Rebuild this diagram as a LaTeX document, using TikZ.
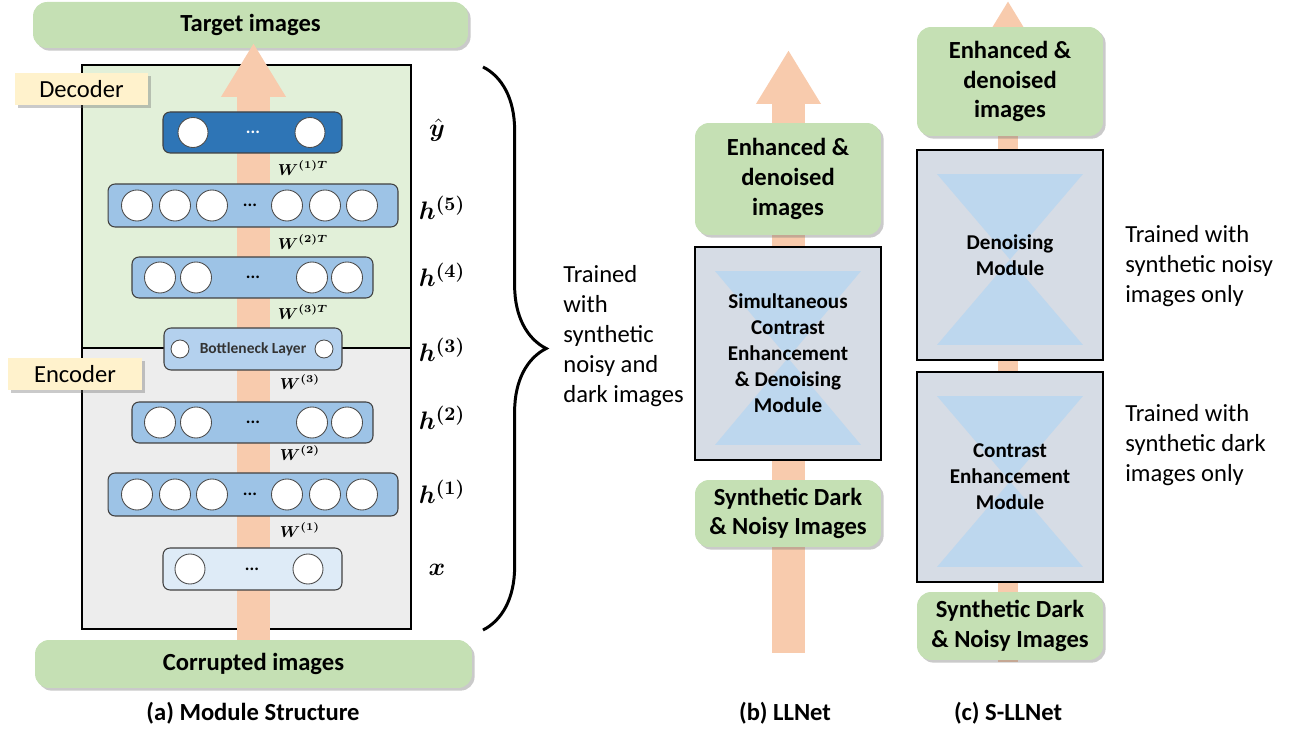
\documentclass[tikz,border=0pt]{standalone}
\usepackage[no-math]{fontspec}
\setmainfont{Carlito}
\usepackage{amsmath}
\usepackage{bm}
\usetikzlibrary{positioning,shadows,arrows.meta,decorations.pathreplacing}

\definecolor{boxgreen}{HTML}{C5E0B4}
\definecolor{decgreen}{HTML}{E2F0D9}
\definecolor{encgray}{HTML}{EDEDED}
\definecolor{tagyellow}{HTML}{FFF2CC}
\definecolor{flowc}{HTML}{F8CBAD}
\definecolor{darklayer}{HTML}{2E75B6}
\definecolor{midlayer}{HTML}{9DC3E6}
\definecolor{necklayer}{HTML}{B4D1EE}
\definecolor{inlayer}{HTML}{DEEBF7}
\definecolor{modfill}{HTML}{D6DCE5}
\definecolor{hourc}{HTML}{BDD7EE}

\tikzset{
    imgbox/.style={fill=boxgreen, rounded corners=8pt, align=center, inner sep=0pt,
        font=\bfseries\fontsize{14}{17}\selectfont,
        drop shadow={shadow xshift=1.5pt, shadow yshift=-1.5pt, opacity=0.35, fill=black!60}},
    tagbox/.style={fill=tagyellow, minimum width=2.66cm, minimum height=0.64cm,
        font=\fontsize{14}{16}\selectfont,
        drop shadow={shadow xshift=1.5pt, shadow yshift=-1.5pt, opacity=0.35, fill=black!60}},
    layer/.style={draw=black!75, rounded corners=4pt, line width=0.6pt},
    neuron/.style={circle, draw=black!70, fill=white, minimum size=0.6cm, inner sep=0pt, line width=0.5pt},
    smallneuron/.style={neuron, minimum size=0.36cm},
    dots/.style={font=\bfseries\fontsize{10}{10}\selectfont, inner sep=0pt},
    wlabel/.style={font=\fontsize{9}{9}\selectfont, inner sep=0pt},
    hlabel/.style={font=\fontsize{15}{16}\selectfont, inner sep=0pt},
    flow/.style={draw=flowc, line width=0.66cm, -{Triangle[width=1.22cm, length=1.08cm]}},
    modbox/.style={draw, line width=0.8pt, fill=modfill, minimum width=3.72cm, align=center,
        font=\bfseries\fontsize{12}{14.8}\selectfont,
        path picture={
            \fill[hourc] ([xshift=0.4cm, yshift=-0.48cm]path picture bounding box.north west)
                -- ([xshift=-0.4cm, yshift=-0.48cm]path picture bounding box.north east)
                -- ([yshift=-0.09cm]path picture bounding box.center) -- cycle;
            \fill[hourc] ([xshift=0.4cm, yshift=0.3cm]path picture bounding box.south west)
                -- ([xshift=-0.4cm, yshift=0.3cm]path picture bounding box.south east)
                -- ([yshift=-0.09cm]path picture bounding box.center) -- cycle;
        }},
    trained/.style={align=left, anchor=west, inner sep=0pt, font=\fontsize{14}{17}\selectfont},
    caption/.style={font=\bfseries\fontsize{14}{16}\selectfont},
}

\begin{document}
\begin{tikzpicture}[x=0.02cm, y=-0.02cm]
    \useasboundingbox (0,0) rectangle (1296,729);

    % (a) module structure
    \node[imgbox, minimum width=8.7cm, minimum height=0.92cm] (target) at (250.5,25) {Target images};

    \fill[decgreen] (82,65) rectangle (411,348);
    \fill[encgray] (82,348) rectangle (411,629);
    \draw[line width=0.6pt] (82,65) rectangle (411,629);
    \draw[line width=0.6pt] (82,348) -- (411,348);

    \node[tagbox] (decoder) at (81.5,89) {Decoder};
    \node[tagbox, minimum width=2.68cm] (encoder) at (75,374) {Encoder};

    \coordinate (aBot) at (253.5,660);
    \coordinate (aTop) at (253.5,43);
    \draw[flow] (aBot) -- (aTop);

    \node[layer, fill=darklayer, minimum width=3.58cm, minimum height=0.82cm] (yhat) at (252.5,132.5) {};
    \foreach \x [count=\i] in {193,310}
        \node[neuron] (yhatn\i) at (\x,132.5) {};
    \node[dots, text=white] (yhatd) at (253,132.5) {...};

    \node[layer, fill=midlayer, minimum width=5.8cm, minimum height=0.86cm] (h5) at (253,205.5) {};
    \foreach \x [count=\i] in {137,175,212,287,325,362}
        \node[neuron, minimum size=0.62cm] (h5n\i) at (\x,205.5) {};
    \node[dots] (h5d) at (250,205.5) {...};

    \node[layer, fill=midlayer, minimum width=4.82cm, minimum height=0.82cm] (h4) at (252.5,277.5) {};
    \foreach \x [count=\i] in {160,196,312,347}
        \node[neuron, minimum size=0.62cm] (h4n\i) at (\x,277.5) {};
    \node[dots] (h4d) at (253,277.5) {...};

    \node[layer, fill=necklayer, minimum width=3.56cm, minimum height=0.84cm] (neck) at (253,349) {};
    \foreach \x [count=\i] in {180,324}
        \node[smallneuron] (neckn\i) at (\x,349) {};
    \node[font=\bfseries\fontsize{8.8}{9}\selectfont, text=black!80, inner sep=0pt] (neckt) at (253,349) {Bottleneck Layer};

    \node[layer, fill=midlayer, minimum width=4.82cm, minimum height=0.82cm] (h2) at (252.5,422.5) {};
    \foreach \x [count=\i] in {160,196,312,347}
        \node[neuron, minimum size=0.62cm] (h2n\i) at (\x,422.5) {};
    \node[dots] (h2d) at (253,422.5) {...};

    \node[layer, fill=midlayer, minimum width=5.8cm, minimum height=0.86cm] (h1) at (253,494.5) {};
    \foreach \x [count=\i] in {137,175,212,287,325,362}
        \node[neuron, minimum size=0.62cm] (h1n\i) at (\x,494.5) {};
    \node[dots] (h1d) at (250,494.5) {...};

    \node[layer, fill=inlayer, minimum width=3.58cm, minimum height=0.84cm] (xin) at (252.5,569) {};
    \foreach \x [count=\i] in {190,308}
        \node[neuron] (xinn\i) at (\x,569) {};
    \node[dots] (xind) at (252,569) {...};

    % weights
    \node[wlabel] (w1t) at (303,168) {$\bm{W^{(1)T}}$};
    \node[wlabel] (w2t) at (303,242) {$\bm{W^{(2)T}}$};
    \node[wlabel] (w3t) at (303,312) {$\bm{W^{(3)T}}$};
    \node[wlabel] (w3) at (300,382) {$\bm{W^{(3)}}$};
    \node[wlabel] (w2) at (300,453) {$\bm{W^{(2)}}$};
    \node[wlabel] (w1) at (300,530) {$\bm{W^{(1)}}$};

    % layer names
    \node[hlabel] (lyhat) at (437,130) {$\hat{\bm{y}}$};
    \node[hlabel] (lh5) at (442,208) {$\bm{h^{(5)}}$};
    \node[hlabel] (lh4) at (442,275) {$\bm{h^{(4)}}$};
    \node[hlabel] (lh3) at (442,350) {$\bm{h^{(3)}}$};
    \node[hlabel] (lh2) at (442,418) {$\bm{h^{(2)}}$};
    \node[hlabel] (lh1) at (442,492) {$\bm{h^{(1)}}$};
    \node[hlabel] (lx) at (437,570) {$\bm{x}$};

    \node[imgbox, minimum width=8.74cm, minimum height=0.96cm] (corrupt) at (253.5,664) {Corrupted images};
    \node[caption] (capa) at (253,713) {(a) Module Structure};

    \coordinate (braceTop) at (483,67);
    \coordinate (braceBot) at (483,630);
    \draw[decorate, decoration={brace, amplitude=36pt}, line width=1.7pt] (braceTop) -- (braceBot);
    \node[trained] (trainA) at (563,336) {Trained\\with\\synthetic\\noisy and\\dark images};

    % (b) LLNet
    \coordinate (bBot) at (788.5,653);
    \coordinate (bTop) at (788.5,50);
    \draw[flow] (bBot) -- (bTop);
    \node[imgbox, minimum width=3.72cm, minimum height=2.24cm] (enhB) at (788,179) {Enhanced \&\\denoised\\images};
    \node[modbox, minimum height=4.26cm] (modB) at (788,353.5) {Simultaneous\\Contrast\\Enhancement\\\& Denoising\\Module};
    \node[imgbox, minimum width=3.72cm, minimum height=1.34cm] (synB) at (788,513.5) {Synthetic Dark\\\& Noisy Images};
    \node[caption] (capb) at (785,713) {(b) LLNet};

    % (c) S-LLNet
    \coordinate (cBot) at (1008,662);
    \coordinate (cTop) at (1008,1);
    \draw[flow, line width=0.4cm, -{Triangle[width=0.9cm, length=0.8cm]}] (cBot) -- (cTop);
    \node[imgbox, minimum width=3.72cm, minimum height=2.18cm] (enhC) at (1010,81.5) {Enhanced \&\\denoised\\images};
    \node[modbox, minimum height=4.2cm] (denC) at (1010,255) {Denoising\\Module};
    \node[modbox, minimum height=4.2cm] (conC) at (1010,477) {Contrast\\Enhancement\\Module};
    \node[imgbox, minimum width=3.72cm, minimum height=1.36cm] (synC) at (1010,626) {Synthetic Dark\\\& Noisy Images};
    \node[caption] (capc) at (1008,713) {(c) S-LLNet};

    \node[trained] (trainDen) at (1125,266) {Trained with\\synthetic noisy\\images only};
    \node[trained] (trainCon) at (1125,445) {Trained with\\synthetic dark\\images only};
\end{tikzpicture}
\end{document}
